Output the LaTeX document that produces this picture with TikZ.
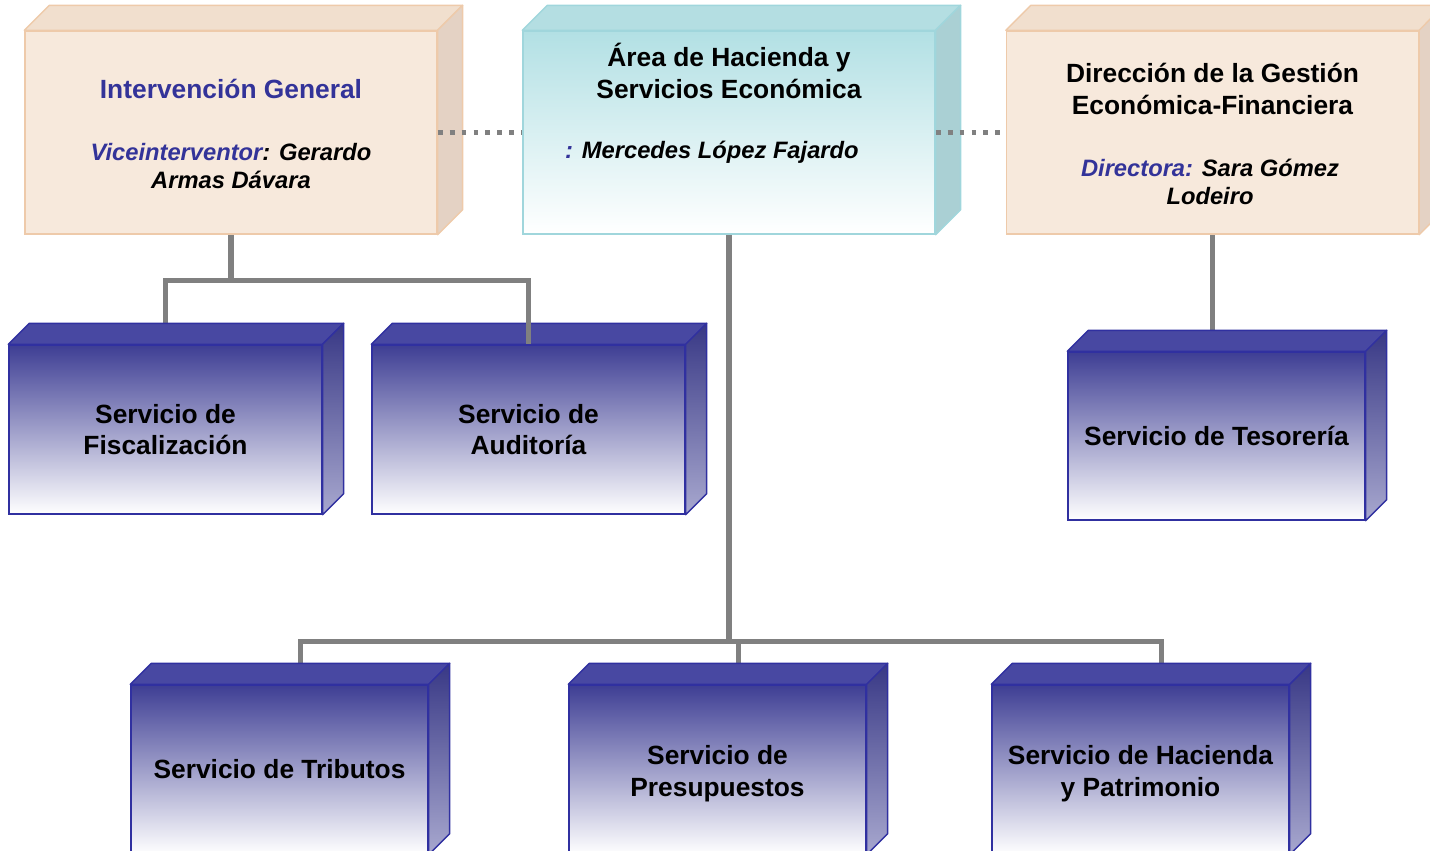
\documentclass[tikz,border=0pt]{standalone}
\usepackage{fontspec}
\setmainfont{Liberation Sans}
\usetikzlibrary{calc}
\pgfdeclarelayer{fondo}
\pgfsetlayers{fondo,main}

\definecolor{azultexto}{RGB}{51,51,153}
\definecolor{beige}{RGB}{247,233,220}
\definecolor{beigetapa}{RGB}{241,223,206}
\definecolor{beigelado}{RGB}{228,210,196}
\definecolor{beigeborde}{RGB}{238,202,170}
\definecolor{turquesa}{RGB}{178,224,228}
\definecolor{turqtapa}{RGB}{180,222,226}
\definecolor{turqlado}{RGB}{170,208,212}
\definecolor{turqborde}{RGB}{160,214,220}
\definecolor{azulcaja}{RGB}{62,62,148}
\definecolor{azultapa}{RGB}{72,72,162}
\definecolor{azulborde}{RGB}{48,48,160}
\definecolor{gris}{RGB}{128,128,128}

\tikzset{
  jefe/.style      = { draw=beigeborde, fill=beige, line width=0.8pt,
                       minimum width=8.24cm, minimum height=4.06cm, inner sep=0pt },
  area/.style      = { draw=turqborde, top color=turquesa, bottom color=white, line width=0.8pt,
                       minimum width=8.24cm, minimum height=4.06cm, inner sep=0pt },
  servicio/.style  = { draw=azulborde, top color=azulcaja, bottom color=white, line width=0.8pt,
                       minimum width=#1, minimum height=3.38cm, inner sep=0pt,
                       align=center, font=\fontsize{15}{18}\selectfont\bfseries },
  tapajefe/.style  = { fill=beigetapa, draw=beigeborde, line width=0.8pt, line join=round },
  ladojefe/.style  = { fill=beigelado, draw=beigeborde, line width=0.8pt, line join=round },
  tapaarea/.style  = { fill=turqtapa, draw=turqborde, line width=0.8pt, line join=round },
  ladoarea/.style  = { fill=turqlado, draw=turqborde, line width=0.8pt, line join=round },
  tapaserv/.style  = { fill=azultapa, draw=azulborde, line width=0.8pt, line join=round },
  ladoserv/.style  = { top color=azulcaja!90!black, bottom color=azulcaja!45!white,
                       draw=azulborde, line width=0.8pt, line join=round },
  titulo/.style    = { align=center, font=\fontsize{15}{18}\selectfont\bfseries },
  nombre/.style    = { align=center, font=\fontsize{13.5}{16}\selectfont\bfseries\itshape },
  enlace/.style    = { gris, line width=2.9pt },
  punteado/.style  = { gris, line width=2.7pt, dash pattern=on 2.8pt off 4pt }
}

% tapa y lateral de una caja
\newcommand{\volumen}[4]{%
  \path[#3] (#1.north west) -- ++(#2,-#2) -- ([shift={(#2,-#2)}]#1.north east)
    -- (#1.north east) -- cycle;
  \path[#4] (#1.north east) -- ++(#2,-#2) -- ([shift={(#2,-#2)}]#1.south east)
    -- (#1.south east) -- cycle;
}

\begin{document}
\begin{tikzpicture}[x=0.02cm, y=-0.02cm]
\clip (0,0) rectangle (1430,851);

% direccion
\node[jefe] (interv) at (231,132.5) {};
\volumen{interv}{25}{tapajefe}{ladojefe}
\node[area] (area) at (729,132.5) {};
\volumen{area}{25}{tapaarea}{ladoarea}
\node[jefe] (dir) at (1212.5,132.5) {};
\volumen{dir}{25}{tapajefe}{ladojefe}

\node[titulo, text=azultexto] (tinterv) at (231,89) {Intervención General};
\node[nombre] (ninterv) at (231,166) {\textcolor{azultexto}{Viceinterventor}: Gerardo\\Armas Dávara};
\node[titulo] (tarea) at (729,71) {Área de Hacienda y\\Servicios Económica};
\node[nombre, anchor=west] (narea) at (559,152) {\textcolor{azultexto}{:} Mercedes López Fajardo};
\node[titulo] (tdir) at (1212.5,89) {Dirección de la Gestión\\Económica-Financiera};
\node[nombre] (ndir) at (1210,182) {\textcolor{azultexto}{Directora:} Sara Gómez\\Lodeiro};

% servicios
\node[servicio=6.26cm] (fisc) at (165.5,429.5) {Servicio de\\Fiscalización};
\volumen{fisc}{21}{tapaserv}{ladoserv}
\node[servicio=6.26cm] (audit) at (528.5,429.5) {Servicio de\\Auditoría};
\volumen{audit}{21}{tapaserv}{ladoserv}
\node[servicio=5.94cm, minimum height=3.36cm] (teso) at (1216.5,436) {Servicio de Tesorería};
\volumen{teso}{21}{tapaserv}{ladoserv}
\node[servicio=5.94cm] (trib) at (279.5,769.5) {Servicio de Tributos};
\volumen{trib}{21}{tapaserv}{ladoserv}
\node[servicio=5.94cm] (presu) at (717.5,769.5) {};
\volumen{presu}{21}{tapaserv}{ladoserv}
\node[titulo] (tpresu) at ([shift={(0,4)}]presu.center) {Servicio de\\Presupuestos};
\node[servicio=5.94cm] (hacien) at (1140.5,769.5) {};
\volumen{hacien}{21}{tapaserv}{ladoserv}
\node[titulo] (thacien) at ([shift={(0,4)}]hacien.center) {Servicio de Hacienda\\y Patrimonio};

% conexiones
\coordinate (bif1) at ($(interv.south)+(0,46)$);
\coordinate (bif2) at ($(area.south)+(0,407)$);
\coordinate (ctrib) at ([shift={(21,-21)}]trib.north);
\coordinate (cpresu) at ([shift={(21,-21)}]presu.north);
\coordinate (chacien) at ([shift={(21,-21)}]hacien.north);
\begin{pgfonlayer}{fondo}
\draw[enlace] (interv.south) -- (bif1) -| (fisc.north);
\draw[enlace] (area.south) -- (bif2);
\draw[enlace] (ctrib) |- (bif2) -| (chacien);
\draw[enlace] (cpresu) -- (cpresu |- bif2);
\draw[enlace] (dir.south) -- (dir.south |- teso.north);
\end{pgfonlayer}
\draw[enlace] (bif1) -| (audit.north);

\draw[punteado] (interv.east) -- (area.west);
\draw[punteado] (area.east) -- (dir.west);
\end{tikzpicture}
\end{document}
